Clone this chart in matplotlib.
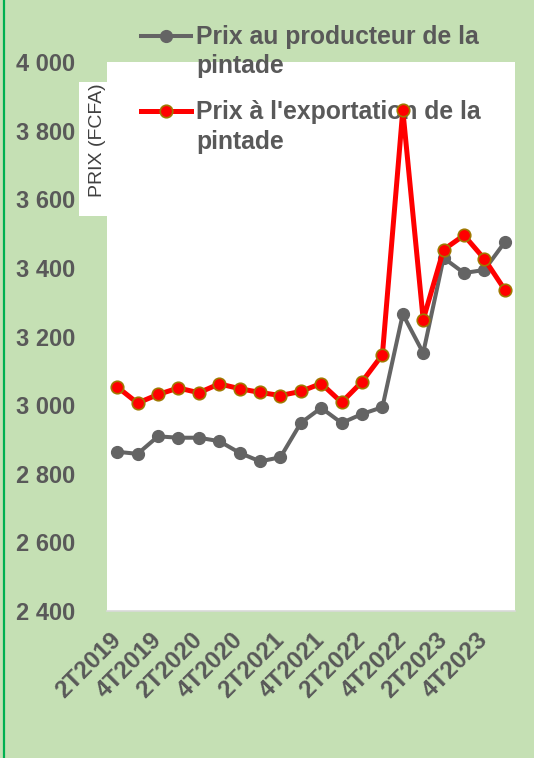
import numpy as np
import matplotlib
matplotlib.use("Agg")
from matplotlib import pyplot as plt
from matplotlib.lines import Line2D
from matplotlib.patches import Rectangle
from matplotlib.ticker import FuncFormatter

quarters = ["2T2019", "3T2019", "4T2019", "1T2020", "2T2020", "3T2020", "4T2020",
            "1T2021", "2T2021", "3T2021", "4T2021", "1T2022", "2T2022", "3T2022",
            "4T2022", "1T2023", "2T2023", "3T2023", "4T2023", "1T2024"]
prix_producteur = [2864, 2858, 2909, 2905, 2905, 2895, 2861, 2836, 2848, 2948,
                   2992, 2948, 2974, 2994, 3265, 3152, 3429, 3385, 3394, 3475]
prix_export = [3053, 3006, 3031, 3050, 3036, 3062, 3048, 3037, 3028, 3040,
               3063, 3008, 3068, 3147, 3860, 3249, 3453, 3495, 3426, 3336]
legend_labels = ["Prix au producteur de la\npintade",
                 "Prix à l'exportation de la\npintade"]
y_ticks = [2400, 2600, 2800, 3000, 3200, 3400, 3600, 3800, 4000]

W, H = 534, 758
BG = "#C5E0B4"
TXT = "#595959"
GRAY = "#646464"
RED = "#FF0000"
EDGE = "#A07800"

plt.rcParams["font.family"] = ["Liberation Sans", "DejaVu Sans"]


def fx(px):
    return px / W


def fy(py):
    return 1 - py / H


fig = plt.figure(figsize=(W / 100, H / 100), dpi=100, facecolor=BG)
ax = fig.add_axes([fx(107), fy(611), fx(515) - fx(107), fy(62) - fy(611)])
ax.set_facecolor("white")

x = np.arange(len(quarters))
ax.plot(x, prix_producteur, color=GRAY, lw=2.9, marker="o", ms=8.5,
        mfc=GRAY, mec=GRAY, zorder=3)
ax.plot(x, prix_export, color=RED, lw=3.6, marker="o", ms=9,
        mfc=RED, mec=EDGE, mew=1.2, zorder=4)

ax.set_xlim(-0.5, len(quarters) - 0.5)
ax.set_ylim(2400, 4000)
ax.set_yticks(y_ticks)
ax.yaxis.set_major_formatter(FuncFormatter(lambda v, p: f"{int(v):,}".replace(",", " ")))
ax.set_xticks(x[::2])
ax.set_xticklabels(quarters[::2], rotation=45, ha="right", va="center",
                   rotation_mode="anchor")
ax.tick_params(axis="both", length=0, labelsize=17, labelcolor=TXT)
ax.tick_params(axis="x", labelsize=17.5)
ax.tick_params(axis="y", pad=23)
ax.tick_params(axis="x", pad=18)
for lab in ax.get_xticklabels() + ax.get_yticklabels():
    lab.set_fontweight("bold")

for s in ["top", "right", "left"]:
    ax.spines[s].set_visible(False)
ax.spines["bottom"].set_color("#D9D9D9")
ax.spines["bottom"].set_linewidth(1.2)

# y axis title in its own white box
fig.patches.append(Rectangle((fx(79), fy(216)), fx(107) - fx(79), fy(82) - fy(216),
                             transform=fig.transFigure, facecolor="white",
                             edgecolor="none", zorder=0))
fig.text(fx(97), fy(140), "PRIX (FCFA)", rotation=90, ha="center", va="center",
         fontsize=14, color="#404040")

# legend drawn by hand, text sits under the data lines
handle_y = [36, 111]
line_y = [[44, 73], [119, 149]]
styles = [dict(color=GRAY, lw=2.9, marker="o", ms=8.5, mfc=GRAY, mec=GRAY),
          dict(color=RED, lw=3.6, marker="o", ms=9, mfc=RED, mec=EDGE, mew=1.2)]
for label, hy, ly, st in zip(legend_labels, handle_y, line_y, styles):
    fig.add_artist(Line2D([fx(141), fx(191)], [fy(hy), fy(hy)], **st, markevery=[]))
    fig.add_artist(Line2D([fx(166)], [fy(hy)], **st))
    for txt, yy in zip(label.split("\n"), ly):
        ax.text(fx(196), fy(yy), txt, transform=fig.transFigure, ha="left",
                va="baseline", fontsize=17.8, fontweight="bold", color=TXT,
                clip_on=False, zorder=1)

fig.add_artist(Line2D([fx(4), fx(4)], [0, 1], color="#00B050", lw=1.6))

fig.savefig("out.png", dpi=100, facecolor=BG)
